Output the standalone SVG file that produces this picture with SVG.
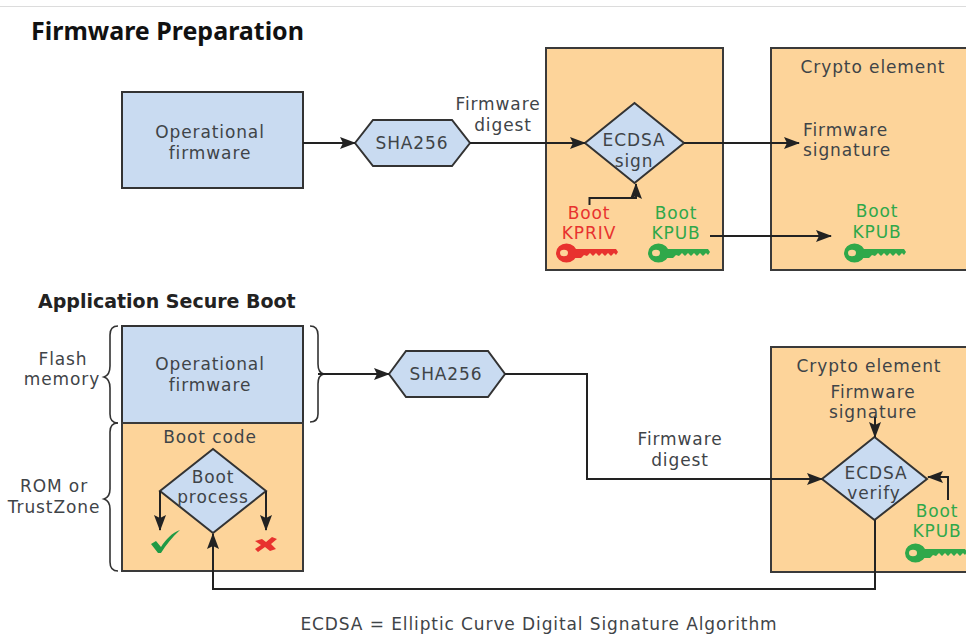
<svg xmlns="http://www.w3.org/2000/svg" width="966" height="634" viewBox="0 0 966 634">
<style>
text{font-family:"DejaVu Sans","Open Sans",sans-serif;font-size:17px;letter-spacing:.9px;fill:#3f4448;text-anchor:middle}
.t{font-family:"Noto Sans","Open Sans",sans-serif;font-weight:700;fill:#111;text-anchor:start;font-size:25px;letter-spacing:0}
.sub{font-weight:700;font-size:19px;letter-spacing:0;fill:#222;text-anchor:start}
.s{text-anchor:start}
.g{fill:#2fa84a}.r{fill:#e8322e}
.o{fill:#fdd49a;stroke:#3a3a3a;stroke-width:2}
.b{fill:#c9dbf1;stroke:#333;stroke-width:2}
.l{fill:none;stroke:#222;stroke-width:2}
.br{fill:none;stroke:#333;stroke-width:1.600}
</style>
<defs>
<marker id="a" markerWidth="16" markerHeight="12" refX="15" refY="6" orient="auto" markerUnits="userSpaceOnUse"><path d="M0 0L16 6L0 12L3 6Z" fill="#222"/></marker>
<g id="key"><path fill-rule="evenodd" d="M0 0a10.500 9.500 0 1 0 21 0a10.500 9.500 0 1 0-21 0ZM4 0a4 3.200 0 1 0 8 0a4 3.200 0 1 0-8 0Z"/><path d="M18-4H60l2 3-2 3-2-2-3 3-3-3-3 3-3-3-3 3-3-3-3 3-3-3-3 3-3-1-3 3H18Z"/></g>
</defs>
<rect width="966" height="634" fill="#fff"/>
<line x1="0" y1="6.500" x2="966" y2="6.500" stroke="#dcdcdc"/>
<text class="t" x="31" y="40">Firmware Preparation</text>
<text class="sub" x="38" y="308">Application Secure Boot</text>

<g id="op-fw-top"><rect class="b" x="122" y="92" width="181" height="96"/><text x="210" y="138">Operational</text><text x="210" y="159">firmware</text></g>
<g id="sha-top"><path class="b" d="M355 143L373 120H452L470 143L452 166H373Z"/><text x="412" y="149">SHA256</text></g>
<g id="sign-box"><rect class="o" x="546" y="48" width="177" height="222"/></g>
<g id="crypto-top"><rect class="o" x="771" y="48" width="197" height="222"/><text x="873" y="73">Crypto element</text><text class="s" x="803" y="136">Firmware</text><text class="s" x="803" y="156">signature</text></g>
<g id="digest-label-top"><text x="498" y="110">Firmware</text><text x="503" y="131">digest</text></g>
<g id="ecdsa-sign"><path class="b" d="M634.500 103L684 143L634.500 183L585 143Z"/><text x="634" y="146">ECDSA</text><text x="634" y="167">sign</text></g>
<g id="kpriv"><text class="r" x="589" y="219">Boot</text><text class="r" x="589" y="239">KPRIV</text><use href="#key" x="556" y="253" class="r"/></g>
<g id="kpub-a"><text class="g" x="676" y="219">Boot</text><text class="g" x="676" y="239">KPUB</text><use href="#key" x="648" y="253" class="g"/></g>
<g id="kpub-b"><text class="g" x="877" y="217">Boot</text><text class="g" x="877" y="238">KPUB</text><use href="#key" x="844" y="253" class="g"/></g>

<g id="flash-labels"><text x="63" y="365">Flash</text><text x="62" y="385">memory</text><text x="54" y="492">ROM or</text><text x="54" y="513">TrustZone</text></g>
<g id="braces">
<path class="br" d="M118 326Q110 326 110 335V366Q110 375 104 377Q110 379 110 388V414Q110 423 118 423"/>
<path class="br" d="M118 423Q110 423 110 432V489Q110 497 104 499Q110 501 110 509V562Q110 571 118 571"/>
<path class="br" d="M310 326Q318 326 318 335V364Q318 373 324 374Q318 375 318 384V414Q318 422 310 422"/>
</g>
<g id="op-fw"><rect class="b" x="122" y="326" width="181" height="97"/><text x="210" y="370">Operational</text><text x="210" y="391">firmware</text></g>
<g id="boot-code"><rect class="o" x="122" y="423" width="181" height="148"/><text x="210" y="443">Boot code</text></g>
<g id="boot-process"><path class="b" d="M213 449L266 491L213 533L160 491Z"/><text x="213" y="483">Boot</text><text x="213" y="503">process</text></g>
<g id="outcomes"><path fill="#1f9a45" d="M151 544L156 541L161 547C166 539 172 533 180 530C172 537 166 545 161 553H158Z"/><path fill="#e8322e" d="M255 541L262 539L266 542L272 537L277 539L271 544L276 549L270 551L265 547L258 552L255 549L261 545Z"/></g>
<g id="sha-bottom"><path class="b" d="M389 374L406 351H488L505 374L488 397H406Z"/><text x="446" y="380">SHA256</text></g>
<g id="digest-label-bottom"><text x="680" y="445">Firmware</text><text x="680" y="466">digest</text></g>
<g id="crypto-bottom"><rect class="o" x="771" y="347" width="197" height="225"/><text x="869" y="372">Crypto element</text><text x="873" y="398">Firmware</text><text x="873" y="418">signature</text></g>
<g id="ecdsa-verify"><path class="b" d="M874.500 437L927 479L874.500 520L822 479Z"/><text x="876" y="479">ECDSA</text><text x="874" y="499">verify</text></g>
<g id="kpub-c"><text class="g" x="937" y="517">Boot</text><text class="g" x="937" y="537">KPUB</text><use href="#key" x="905" y="553" class="g"/></g>

<g id="connectors">
<path class="l" d="M303 143H355" marker-end="url(#a)"/>
<path class="l" d="M470 143H585" marker-end="url(#a)"/>
<path class="l" d="M684 143H799" marker-end="url(#a)"/>
<path class="l" d="M710 236H831" marker-end="url(#a)"/>
<path class="l" d="M589.500 205V198H636V184" marker-end="url(#a)"/>
<path class="l" d="M318 374H389" marker-end="url(#a)"/>
<path class="l" d="M505 374H587V479H822" marker-end="url(#a)"/>
<path class="l" d="M875 520V589H213V534" marker-end="url(#a)"/>
<path class="l" d="M160 491V530" marker-end="url(#a)"/>
<path class="l" d="M266 491V530" marker-end="url(#a)"/>
<path class="l" d="M875 417V437" marker-end="url(#a)"/>
<path class="l" d="M948 500V477H928" marker-end="url(#a)"/>
</g>
<text x="539" y="630">ECDSA = Elliptic Curve Digital Signature Algorithm</text>
</svg>
